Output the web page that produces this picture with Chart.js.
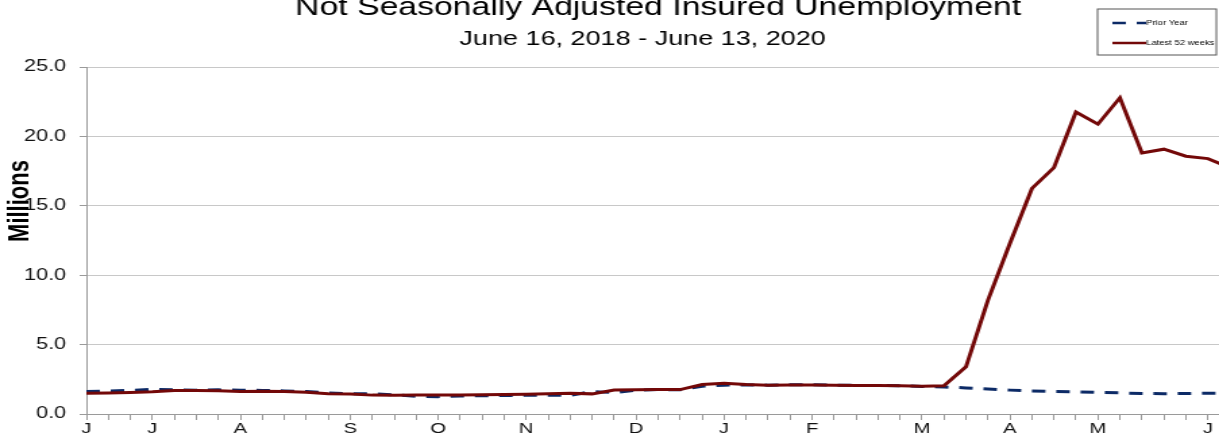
<!DOCTYPE html>
<html>
<head>
<meta charset="utf-8">
<title>Not Seasonally Adjusted Insured Unemployment</title>
<script src="https://cdn.jsdelivr.net/npm/chart.js@4.4.1/dist/chart.umd.min.js"></script>
<style>
  html, body { margin: 0; padding: 0; background: #fff; overflow: hidden; width: 1219px; height: 437px; }
  #wrap { position: relative; width: 1219px; height: 437px; overflow: hidden; }
  #chart { display: block; position: absolute; left: 0; top: -8px; transform: scaleX(1.35); transform-origin: 0 0; }
</style>
</head>
<body>
<div id="wrap"><canvas id="chart" width="952" height="446"></canvas></div>
<script>
// weeks ending Jun 15 2019 .. Jun 13 2020, only first week of each month labelled
const weekLabels = [
  'J', '', '', 'J', '', '', '', 'A', '', '', '', '', 'S', '', '', '', 'O', '', '', '',
  'N', '', '', '', '', 'D', '', '', '', 'J', '', '', '', 'F', '', '', '', '', 'M', '',
  '', '', 'A', '', '', '', 'M', '', '', '', '', 'J', ''
]

// millions
const priorYear = [
  1.62, 1.65, 1.70, 1.78, 1.74, 1.72, 1.74, 1.72, 1.70, 1.66,
  1.62, 1.52, 1.46, 1.46, 1.38, 1.28, 1.25, 1.30, 1.32, 1.33,
  1.35, 1.36, 1.34, 1.62, 1.54, 1.72, 1.76, 1.74, 2.00, 2.08,
  2.10, 2.08, 2.10, 2.10, 2.08, 2.06, 2.06, 2.03, 1.99, 1.95,
  1.88, 1.80, 1.72, 1.66, 1.63, 1.60, 1.55, 1.52, 1.48, 1.46,
  1.48, 1.49, 1.49
]

const latest52 = [
  1.50, 1.52, 1.55, 1.60, 1.70, 1.69, 1.67, 1.63, 1.64, 1.62,
  1.57, 1.46, 1.44, 1.36, 1.35, 1.36, 1.36, 1.37, 1.39, 1.41,
  1.43, 1.46, 1.49, 1.45, 1.73, 1.74, 1.76, 1.76, 2.12, 2.22,
  2.12, 2.08, 2.09, 2.09, 2.07, 2.06, 2.05, 2.03, 2.00, 2.03,
  3.40, 8.20, 12.30, 16.25, 17.75, 21.75, 20.88, 22.78, 18.81, 19.08,
  18.57, 18.40, 17.75
]

const yMin = 0
const yMax = 25
const yStep = 5

const FONT = '"Liberation Sans", Arial, sans-serif'

// boxed legend + rotated axis label, drawn on the canvas
const boxLegend = {
  id: 'boxLegend',
  afterDraw (chart) {
    const { ctx, chartArea } = chart
    const x = chartArea.right - 98
    const y = 17
    ctx.save()
    ctx.strokeStyle = '#555'
    ctx.lineWidth = 1
    ctx.strokeRect(x, y, 88, 46)
    ctx.font = '7px ' + FONT
    ctx.textBaseline = 'middle'
    ctx.textAlign = 'left'
    chart.data.datasets.forEach((ds, i) => {
      const ly = y + 14 + i * 20
      ctx.strokeStyle = ds.borderColor
      ctx.lineWidth = 2.5
      ctx.setLineDash(ds.borderDash || [])
      ctx.beginPath()
      ctx.moveTo(x + 11, ly)
      ctx.lineTo(x + 36, ly)
      ctx.stroke()
      ctx.setLineDash([])
      ctx.fillStyle = '#000'
      ctx.fillText(ds.label, x + 36, ly)
    })

    ctx.translate(15, 209)
    ctx.rotate(-Math.PI / 2)
    ctx.font = 'bold 22px ' + FONT
    ctx.textAlign = 'center'
    ctx.fillStyle = '#000'
    ctx.fillText('Millions', 0, 0)
    ctx.restore()
  }
}

const ctx = document.getElementById('chart').getContext('2d')
new Chart(ctx, {
  type: 'line',
  data: {
    labels: weekLabels,
    datasets: [
      { label: 'Prior Year', data: priorYear, borderColor: '#0c2a66', borderWidth: 3, borderDash: [10, 8], pointRadius: 0, tension: 0, order: 1 },
      { label: 'Latest 52 weeks', data: latest52, borderColor: '#730808', borderWidth: 3, pointRadius: 0, tension: 0, order: 0 }
    ]
  },
  options: {
    responsive: false,
    devicePixelRatio: 1,
    animation: false,
    layout: { padding: 0 },
    plugins: {
      legend: { display: false },
      tooltip: { enabled: false },
      title: {
        display: true,
        text: 'Not Seasonally Adjusted Insured Unemployment',
        fullSize: false,
        color: '#000',
        font: { size: 25, weight: 'normal', family: FONT, lineHeight: 1.25 },
        padding: { top: 0, bottom: 0 }
      },
      subtitle: {
        display: true,
        text: 'June 16, 2018 - June 13, 2020',
        fullSize: true,
        color: '#000',
        font: { size: 20, weight: 'normal', family: FONT, lineHeight: 1.2 },
        padding: { top: 3.75, bottom: 16 }
      }
    },
    scales: {
      x: {
        type: 'category',
        offset: false,
        border: { color: '#9a9a9a', width: 1 },
        grid: { drawOnChartArea: false, drawTicks: true, tickLength: 6, color: '#9a9a9a' },
        ticks: { autoSkip: false, maxRotation: 0, minRotation: 0, padding: 0, color: '#111', font: { size: 15, family: FONT } }
      },
      y: {
        min: yMin,
        max: yMax,
        afterFit (scale) { scale.width = 64 },
        border: { color: '#9a9a9a', width: 1 },
        grid: { color: '#c8c8c8', lineWidth: 1, tickLength: 5, tickColor: '#9a9a9a' },
        ticks: { stepSize: yStep, padding: 10, color: '#111', font: { size: 16, family: FONT }, callback: v => v.toFixed(1) }
      },
      // empty strip on the right so the last week runs past the window edge
      yRight: {
        position: 'right',
        display: true,
        afterFit (scale) { scale.width = 41 },
        border: { display: false },
        grid: { display: false, drawTicks: false },
        ticks: { display: false }
      }
    }
  },
  plugins: [boxLegend]
})
</script>
</body>
</html>
